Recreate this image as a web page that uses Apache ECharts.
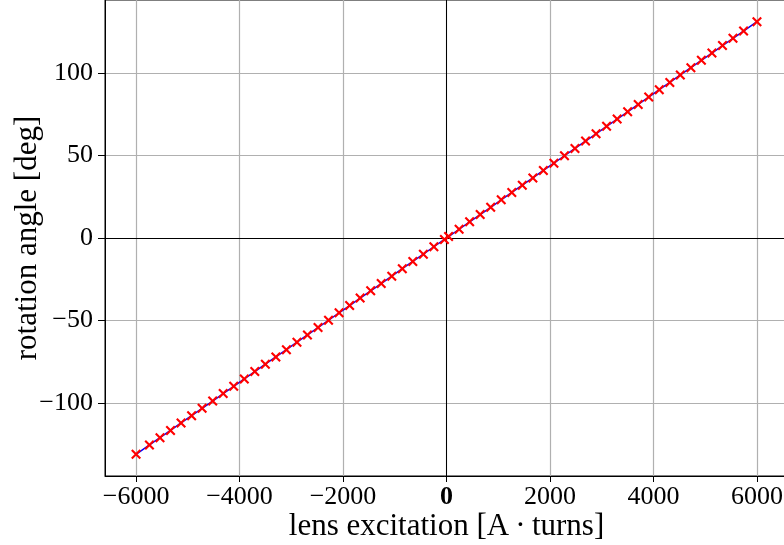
<!DOCTYPE html>
<html>
<head>
<meta charset="utf-8">
<script src="https://cdn.jsdelivr.net/npm/echarts@6/dist/echarts.min.js"></script>
<style>
html, body { margin: 0; padding: 0; background: #fff; }
#rotation-chart { width: 784px; height: 545px; }
</style>
</head>
<body>
<div id="rotation-chart"></div>
<script>
// lens excitation [A·turns] and measured rotation angle [deg]
const excitation = [
  -6000, -5741, -5537, -5334, -5130, -4926, -4723, -4519, -4316, -4112,
  -3908, -3705, -3501, -3298, -3094, -2890, -2687, -2483, -2280, -2076,
  -1872, -1669, -1465, -1262, -1058, -854, -651, -447, -244, -40,
  40, 244, 447, 651, 854, 1058, 1262, 1465, 1669, 1872,
  2076, 2280, 2483, 2687, 2890, 3094, 3298, 3501, 3705, 3908,
  4112, 4316, 4519, 4723, 4926, 5130, 5334, 5537, 5741, 6000
];
const angle = [
  -131.0, -125.3, -120.9, -116.5, -112.0, -107.6, -103.1, -98.7, -94.2, -89.8,
  -85.3, -80.9, -76.4, -72.0, -67.6, -63.1, -58.7, -54.2, -49.8, -45.3,
  -40.9, -36.4, -32.0, -27.6, -23.1, -18.6, -14.2, -9.8, -5.3, -0.9,
  0.9, 5.3, 9.8, 14.2, 18.6, 23.1, 27.6, 32.0, 36.4, 40.9,
  45.3, 49.8, 54.2, 58.7, 63.1, 67.6, 72.0, 76.4, 80.9, 85.3,
  89.8, 94.2, 98.7, 103.1, 107.6, 112.0, 116.5, 120.9, 125.3, 131.0
];
const xTicks = [-6000, -4000, -2000, 0, 2000, 4000, 6000];
const yTicks = [-100, -50, 0, 50, 100];

const serif = "'Liberation Serif', 'DejaVu Serif', serif";
const minusFmt = function (v) {
  return v < 0 ? '\u2212' + Math.abs(v) : String(v);
};

const chartDom = document.getElementById('rotation-chart');
const myChart = echarts.init(chartDom);

const points = excitation.map(function (x, i) { return [x, angle[i]]; });

const option = {
  animation: false,
  grid: {
    left: 105,
    top: 0,
    width: 683,
    height: 476,
    show: true,
    borderColor: '#000',
    borderWidth: 1,
    containLabel: false,
    outerBoundsMode: 'none'
  },
  xAxis: {
    type: 'value',
    min: -6600,
    max: 6600,
    splitNumber: 6,
    minInterval: 2000,
    maxInterval: 2000,
    name: 'lens excitation [A\u2009\u00b7\u2009turns]',
    nameLocation: 'middle',
    nameGap: 35,
    nameMoveOverlap: false,
    nameTextStyle: { fontFamily: serif, fontSize: 31, color: '#000' },
    axisLine: { show: true, onZero: false, lineStyle: { color: '#000', width: 1 } },
    axisTick: { show: true, length: 6, customValues: xTicks, lineStyle: { color: '#000' } },
    axisLabel: {
      customValues: xTicks,
      margin: 8,
      fontFamily: serif,
      fontSize: 26,
      color: '#000',
      formatter: function (v) {
        return v === 0 ? '{b|0}' : minusFmt(v);
      },
      rich: {
        b: { fontFamily: serif, fontSize: 26, fontWeight: 'bold', color: '#000' }
      }
    },
    splitLine: { show: true, lineStyle: { color: '#b0b0b0', width: 1.2 } }
  },
  yAxis: {
    type: 'value',
    min: -144.1,
    max: 144.1,
    splitNumber: 6,
    minInterval: 50,
    maxInterval: 50,
    name: 'rotation angle [deg]',
    nameLocation: 'middle',
    nameGap: 62,
    nameMoveOverlap: false,
    nameRotate: 90,
    nameTextStyle: { fontFamily: serif, fontSize: 31, color: '#000' },
    axisLine: { show: true, onZero: false, lineStyle: { color: '#000', width: 1 } },
    axisTick: { show: true, length: 7, customValues: yTicks, lineStyle: { color: '#000' } },
    axisLabel: {
      customValues: yTicks,
      margin: 12,
      fontFamily: serif,
      fontSize: 26,
      color: '#000',
      formatter: minusFmt
    },
    splitLine: { show: true, lineStyle: { color: '#b0b0b0', width: 1.2 } }
  },
  series: [
    {
      // zero reference lines
      type: 'line',
      z: 1,
      data: [[0, 0]],
      showSymbol: false,
      lineStyle: { width: 0 },
      silent: true,
      markLine: {
        z: 1,
        silent: true,
        symbol: ['none', 'none'],
        label: { show: false },
        lineStyle: { color: '#000', width: 1, type: 'solid' },
        emphasis: { disabled: true },
        data: [{ xAxis: 0 }, { yAxis: 0 }]
      }
    },
    {
      type: 'line',
      z: 3,
      data: points,
      showAllSymbol: true,
      symbol: 'path://M0,1.5L1.5,0L5,3.5L8.5,0L10,1.5L6.5,5L10,8.5L8.5,10L5,6.5L1.5,10L0,8.5L3.5,5Z',
      symbolSize: 10,
      itemStyle: { color: '#ff0000' },
      lineStyle: { color: '#0000ff', width: 1.5 },
      emphasis: { disabled: true }
    }
  ]
};

option && myChart.setOption(option);
window.addEventListener('resize', function () {
  myChart.resize();
});
</script>
</body>
</html>
